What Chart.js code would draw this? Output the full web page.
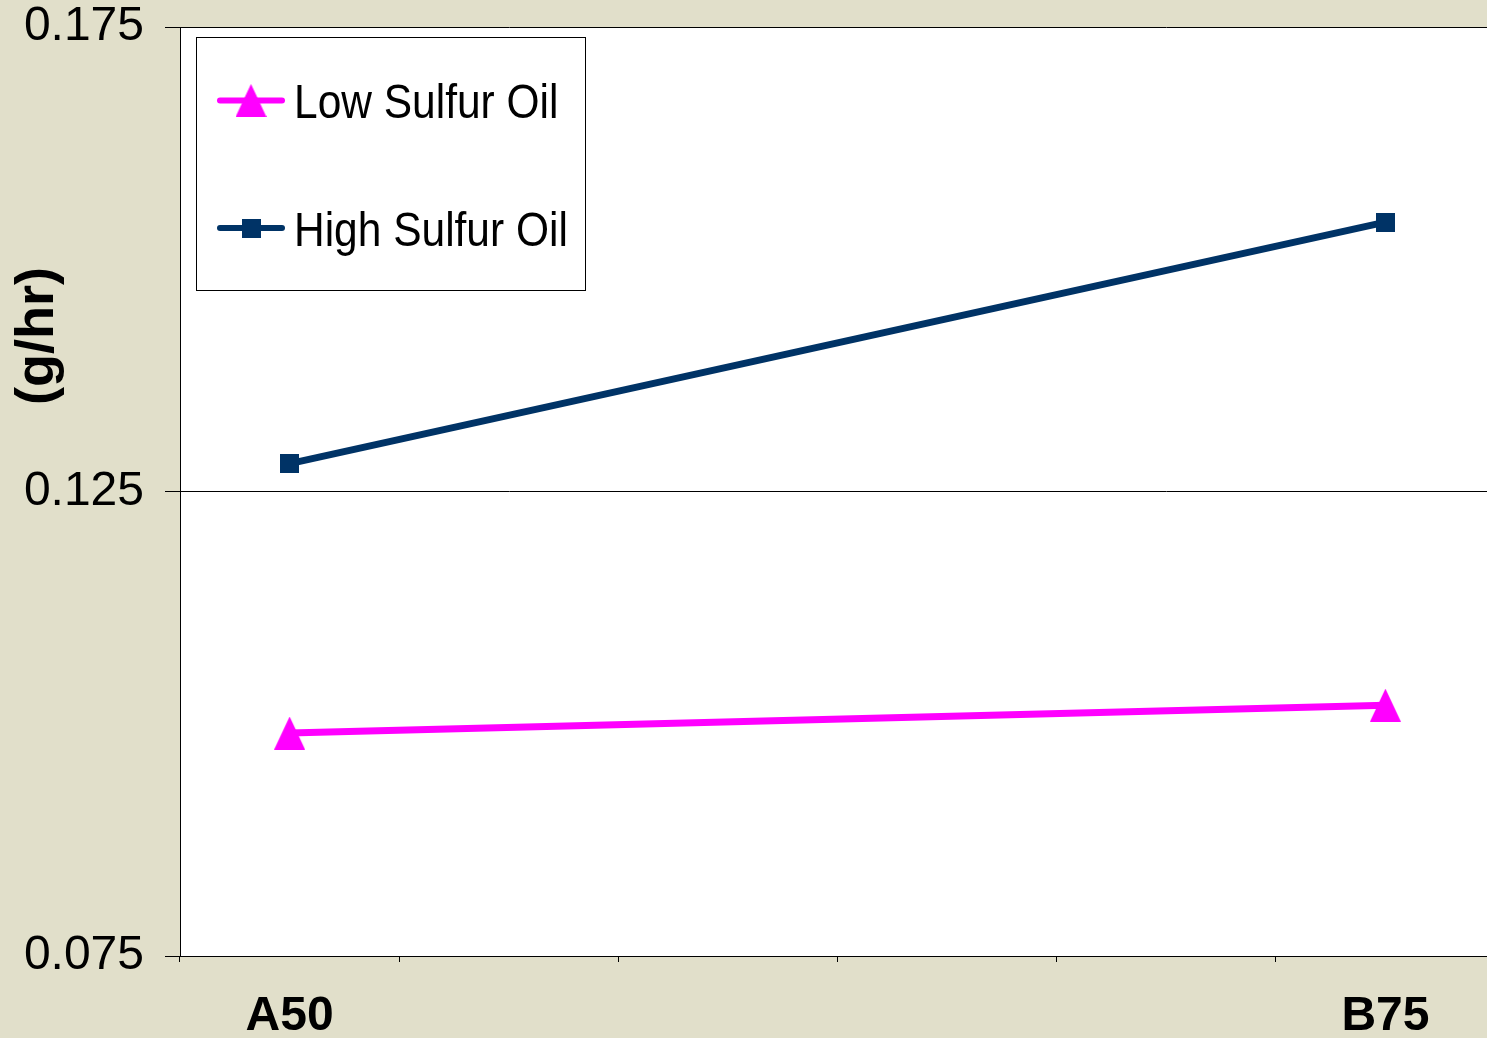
<!DOCTYPE html>
<html>
<head>
<meta charset="utf-8">
<script src="https://cdn.jsdelivr.net/npm/chart.js@4/dist/chart.umd.min.js"></script>
<style>
  html, body { margin: 0; padding: 0; overflow: hidden; background: #e1dfca; }
  #wrap { width: 1487px; height: 1038px; position: relative; overflow: hidden; }
  #chart { display: block; position: absolute; left: 0; top: 0; }
</style>
</head>
<body>
<div id="wrap"><canvas id="chart" width="1496" height="1038"></canvas></div>
<script>
// Emission rate by engine condition, grams per hour
const categories = ['A50', '', '', '', '', 'B75'];
const lowSulfur = [0.099, null, null, null, null, 0.102];
const highSulfur = [0.128, null, null, null, null, 0.154];
const yTicks = [0.075, 0.125, 0.175];
const seriesNames = ['Low Sulfur Oil', 'High Sulfur Oil'];
const yTitle = '(g/hr)';

const FONT = "'Liberation Sans', Arial, sans-serif";
const MAGENTA = '#ff00ff';
const NAVY = '#003366';

// Marker images, drawn centred on each point
function triangleMarker(color) {
  const c = document.createElement('canvas');
  c.width = 31; c.height = 33;
  const g = c.getContext('2d');
  g.fillStyle = color;
  g.beginPath();
  g.moveTo(15.5, 0);
  g.lineTo(31, 33);
  g.lineTo(0, 33);
  g.closePath();
  g.fill();
  return c;
}
function squareMarker(color) {
  const c = document.createElement('canvas');
  c.width = 19; c.height = 19;
  const g = c.getContext('2d');
  g.fillStyle = color;
  g.fillRect(0, 0, 19, 19);
  return c;
}
const triImg = triangleMarker(MAGENTA);
const sqImg = squareMarker(NAVY);

// White plot area
const plotBackground = {
  id: 'plotBackground',
  beforeDraw(chart) {
    const { ctx, chartArea: a } = chart;
    ctx.save();
    ctx.fillStyle = '#ffffff';
    ctx.fillRect(a.left, a.top, a.right - a.left, a.bottom - a.top);
    ctx.restore();
  }
};

// Rotated y-axis title
const yTitlePlugin = {
  id: 'yTitle',
  afterDraw(chart) {
    const ctx = chart.ctx;
    ctx.save();
    ctx.translate(38, 336);
    ctx.rotate(-Math.PI / 2);
    ctx.font = 'bold 54px ' + FONT;
    ctx.fillStyle = '#000';
    ctx.textAlign = 'center';
    ctx.textBaseline = 'middle';
    ctx.fillText(yTitle, 0, 0);
    ctx.restore();
  }
};

// Boxed legend in the upper-left of the plot
const boxLegend = {
  id: 'boxLegend',
  afterDatasetsDraw(chart) {
    const ctx = chart.ctx;
    ctx.save();
    ctx.fillStyle = '#ffffff';
    ctx.fillRect(196, 37, 390, 254);
    ctx.strokeStyle = '#000';
    ctx.lineWidth = 1;
    ctx.strokeRect(196.5, 37.5, 389, 253);
    chart.data.datasets.forEach((ds, i) => {
      const cy = 100.5 + i * 127.5;
      ctx.strokeStyle = ds.borderColor;
      ctx.lineWidth = 6;
      ctx.lineCap = 'round';
      ctx.beginPath();
      ctx.moveTo(220, cy);
      ctx.lineTo(282, cy);
      ctx.stroke();
      const img = ds.pointStyle;
      ctx.drawImage(img, 251 - img.width / 2, cy - img.height / 2);
      ctx.save();
      ctx.translate(294, cy + 17.5);
      ctx.scale(0.885, 1);
      ctx.font = '48px ' + FONT;
      ctx.fillStyle = '#000';
      ctx.textAlign = 'left';
      ctx.textBaseline = 'alphabetic';
      ctx.fillText(ds.label, 0, 0);
      ctx.restore();
    });
    ctx.restore();
  }
};

new Chart(document.getElementById('chart'), {
  type: 'line',
  data: {
    labels: categories,
    datasets: [
      {
        label: seriesNames[0],
        data: lowSulfur,
        borderColor: MAGENTA,
        backgroundColor: MAGENTA,
        borderWidth: 7,
        pointStyle: triImg,
        pointBorderWidth: 0,
        spanGaps: true,
        tension: 0
      },
      {
        label: seriesNames[1],
        data: highSulfur,
        borderColor: NAVY,
        backgroundColor: NAVY,
        borderWidth: 7,
        pointStyle: sqImg,
        pointBorderWidth: 0,
        spanGaps: true,
        tension: 0
      }
    ]
  },
  options: {
    responsive: false,
    devicePixelRatio: 1,
    animation: false,
    events: [],
    layout: { autoPadding: false, padding: { top: 27, right: 1, left: 0, bottom: 0 } },
    plugins: {
      legend: { display: false },
      tooltip: { enabled: false }
    },
    scales: {
      x: {
        type: 'category',
        offset: true,
        grid: {
          offset: true,
          drawOnChartArea: false,
          drawTicks: true,
          tickLength: 6,
          color: '#000',
          lineWidth: 1
        },
        border: { display: true, color: '#000', width: 1 },
        ticks: {
          autoSkip: false,
          maxRotation: 0,
          padding: 26,
          color: '#000',
          font: { family: FONT, size: 48, weight: 'bold' }
        },
        afterFit(scale) {
          scale.height = 82;
          scale.paddingLeft = 0;
          scale.paddingRight = 0;
        }
      },
      y: {
        type: 'linear',
        min: yTicks[0],
        max: yTicks[yTicks.length - 1],
        afterBuildTicks(scale) {
          scale.ticks = yTicks.map(v => ({ value: v }));
        },
        grid: {
          color: '#000',
          lineWidth: 1,
          drawTicks: true,
          tickLength: 15
        },
        border: { display: true, color: '#000', width: 1 },
        ticks: {
          padding: 21,
          color: '#000',
          font: { family: FONT, size: 48 },
          callback: v => Number(v).toFixed(3)
        },
        afterFit(scale) {
          scale.width = 180;
          scale.paddingTop = 0;
          scale.paddingBottom = 0;
        }
      }
    }
  },
  plugins: [plotBackground, boxLegend, yTitlePlugin]
});
</script>
</body>
</html>
